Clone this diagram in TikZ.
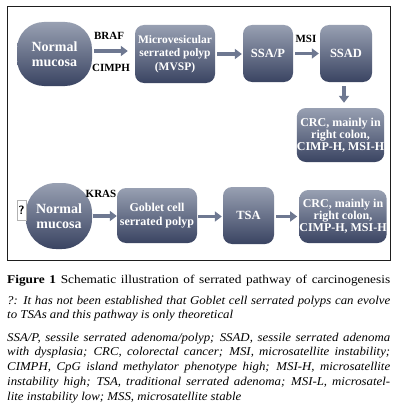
\documentclass[tikz,border=0pt]{standalone}
\usepackage{fontspec}
\setmainfont{Liberation Serif}
\newfontfamily\capfont{Liberation Serif}[FakeStretch=1.12]
\newfontfamily\legfont{Liberation Serif}[FakeStretch=1.07]
\usetikzlibrary{arrows.meta,calc}
\definecolor{boxtop}{RGB}{152,160,178}
\definecolor{boxbot}{RGB}{58,68,98}
\definecolor{arr}{RGB}{110,120,145}
\definecolor{framec}{RGB}{30,30,30}
\begin{document}
\begin{tikzpicture}[x=1pt,y=-1pt,
  box/.style={rounded corners=9pt, top color=boxtop, bottom color=boxbot, draw=none, text=white, font=\bfseries\fontsize{12.5}{12.5}\selectfont, align=center, inner sep=0pt},
  crcbox/.style={box, font=\bfseries\fontsize{12}{12}\selectfont},
  blob/.style={box, rounded corners=27pt, font=\bfseries\fontsize{14}{15}\selectfont},
  arrowline/.style={draw=arr, line width=3.2pt, -{Triangle[length=7pt,width=10pt]}},
  lab/.style={font=\bfseries\fontsize{11}{12}\selectfont, text=black, inner sep=0pt},
  capline/.style={anchor=base west, inner sep=0pt, font=\legfont\itshape\fontsize{12}{14}\selectfont}
]
\useasboundingbox (0,0) rectangle (400,420);
\fill[white] (0,0) rectangle (400,420);
\draw[framec, line width=1pt] (7,7) rectangle (390.5,260);

\node[blob, minimum width=75pt, minimum height=64pt] (nm1) at (54.5,54) {Normal\\mucosa};
\node[box, minimum width=80pt, minimum height=58pt, font=\bfseries\fontsize{11.5}{13.3}\selectfont] (mvsp) at (175,54) {Microvesicular\\serrated polyp\\(MVSP)};
\node[box, minimum width=50pt, minimum height=57pt] (ssap) at (268,53.5) {SSA/P};
\node[box, minimum width=52pt, minimum height=57pt] (ssad) at (346,53.5) {SSAD};
\node[crcbox, minimum width=85pt, minimum height=54pt] (crc1) at (340.5,135) {CRC, mainly in\\right colon,\\CIMP-H, MSI-H};

\node[blob, minimum width=66pt, minimum height=66pt, rounded corners=30pt] (nm2) at (59,216) {Normal\\mucosa};
\node[draw=gray!60, fill=white, minimum width=9pt, minimum height=20pt, inner sep=0pt, font=\sffamily\bfseries\fontsize{12}{12}\selectfont] (q) at (21.5,210) {?};
\node[box, minimum width=80pt, minimum height=55pt, font=\bfseries\fontsize{12}{13.5}\selectfont] (gob) at (157,215.5) {Goblet cell\\serrated polyp};
\node[box, minimum width=51pt, minimum height=57pt] (tsa) at (248.5,215.5) {TSA};
\node[crcbox, minimum width=82pt, minimum height=53pt] (crc2) at (343,216.5) {CRC, mainly in\\right colon,\\CIMP-H, MSI-H};

\draw[arrowline, shorten <=2pt, shorten >=7pt] ([yshift=3pt]nm1.east) -- ([yshift=3pt]nm1.east -| mvsp.west);
\draw[arrowline, shorten <=2pt, shorten >=1pt] (mvsp.east) -- (mvsp.east -| ssap.west);
\draw[arrowline, shorten <=2pt, shorten >=1pt] (ssap.east) -- (ssap.east -| ssad.west);
\draw[arrowline, shorten <=4pt, shorten >=5pt] ([xshift=-2pt]ssad.south) -- ([xshift=-2pt]ssad.south |- crc1.north);
\draw[arrowline, shorten <=1pt, shorten >=0pt] (nm2.east) -- (nm2.east -| gob.west);
\draw[arrowline, shorten <=1pt, shorten >=1pt] ([yshift=-1pt]gob.east) -- ([yshift=-1pt]gob.east -| tsa.west);
\draw[arrowline, shorten <=2pt, shorten >=2pt] ([yshift=-1pt]tsa.east) -- ([yshift=-1pt]tsa.east -| crc2.west);

\node[lab] (braf) at (109,36) {BRAF};
\node[lab] (cimph) at (111,68) {CIMPH};
\node[lab] (msi) at (306,39) {MSI};
\node[lab] (kras) at (101,194) {KRAS};

\node[anchor=base west, inner sep=0pt, font=\capfont\fontsize{11.9}{14}\selectfont] (cap) at (7,283) {\makebox[383pt][s]{\textbf{Figure 1} Schematic illustration of serrated pathway of carcinogenesis}};
\node[capline] (l1) at (7,304) {\makebox[383pt][s]{?: It has not been established that Goblet cell serrated polyps can evolve}};
\node[capline] (l2) at (7,318.5) {to TSAs and this pathway is only theoretical};
\node[capline] (l3) at (7,341) {\makebox[383pt][s]{SSA/P, sessile serrated adenoma/polyp; SSAD, sessile serrated adenoma}};
\node[capline] (l4) at (7,355.8) {\makebox[383pt][s]{with dysplasia; CRC, colorectal cancer; MSI, microsatellite instability;}};
\node[capline] (l5) at (7,370.6) {\makebox[383pt][s]{CIMPH, CpG island methylator phenotype high; MSI-H, microsatellite}};
\node[capline] (l6) at (7,385.4) {\makebox[383pt][s]{instability high; TSA, traditional serrated adenoma; MSI-L, microsatel-}};
\node[capline] (l7) at (7,400.2) {lite instability low; MSS, microsatellite stable};
\end{tikzpicture}
\end{document}
